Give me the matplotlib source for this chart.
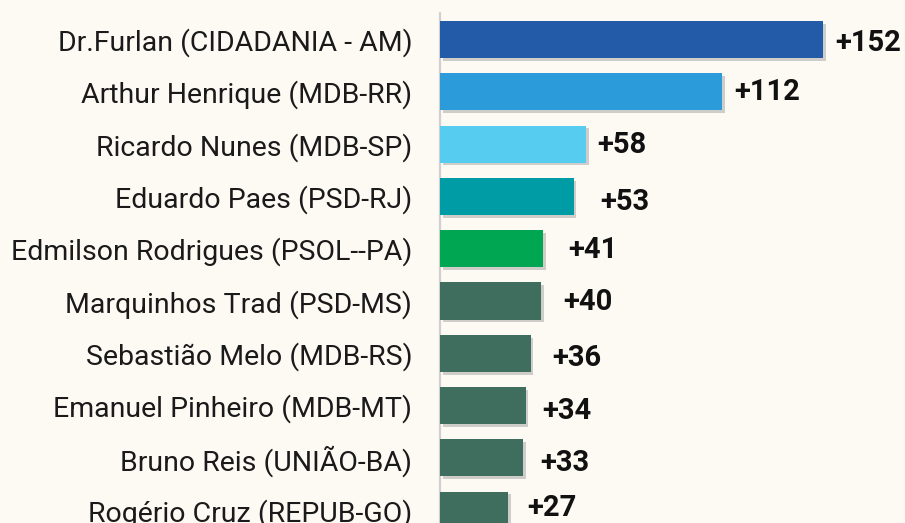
import matplotlib.pyplot as plt
import matplotlib.patheffects as pe

plt.rcParams['font.family'] = ['Roboto', 'DejaVu Sans']

# data
names = [
    'Dr.Furlan (CIDADANIA - AM)',
    'Arthur Henrique (MDB-RR)',
    'Ricardo Nunes (MDB-SP)',
    'Eduardo Paes (PSD-RJ)',
    'Edmilson Rodrigues (PSOL--PA)',
    'Marquinhos Trad (PSD-MS)',
    'Sebastião Melo (MDB-RS)',
    'Emanuel Pinheiro (MDB-MT)',
    'Bruno Reis (UNIÃO-BA)',
    'Rogério Cruz (REPUB-GO)',
]
growth = [152, 112, 58, 53, 41, 40, 36, 34, 33, 27]

# styling
bar_colors = ['#235BA8', '#2C9BD9', '#55CCF0', '#009CA6', '#00A651',
              '#3F6E5F', '#3F6E5F', '#3F6E5F', '#3F6E5F', '#3F6E5F']
# label nudges in pixels (right, down) -- the original places them by hand
label_dx = [12.5, 12, 11, 27, 25, 22, 22, 17, 17, 19.5]
label_dy = [0.5, -2.5, -2, 2.5, -2, -1.5, 1.5, 2.5, 1.7, -5]

bg = '#FDFAF4'
W, H = 905, 523
dpi = 100

fig = plt.figure(figsize=(W / dpi, H / dpi), dpi=dpi, facecolor=bg)
ax = fig.add_axes([440 / W, 0, 1 - 440 / W, (523 - 13) / H])
ax.set_facecolor(bg)

ypos = list(range(len(names)))
bars = ax.barh(ypos, growth, height=0.71, color=bar_colors, zorder=3)
for b in bars:
    b.set_path_effects([pe.SimplePatchShadow(offset=(2, -2), shadow_rgbFace='#666666', alpha=0.3),
                        pe.Normal()])

px2pt = 72 / dpi
for i, v in enumerate(growth):
    # +3 px: va='center' counts the descent, so digits ride a bit high otherwise
    ax.annotate('+' + str(v), xy=(v, i),
                xytext=(label_dx[i] * px2pt, -(label_dy[i] + 3) * px2pt),
                textcoords='offset points', ha='left', va='center',
                fontsize=21, fontweight='bold', color='#111111')

ax.set_xlim(0, (W - 440) / 2.52)
ax.set_ylim(9.245, -0.507)
ax.set_yticks(ypos)
ax.set_yticklabels(names, fontsize=20.5, color='#1a1a1a')
ax.tick_params(axis='y', length=0, pad=20)
ax.set_xticks([])

for s in ['top', 'right', 'bottom']:
    ax.spines[s].set_visible(False)
ax.spines['left'].set_color('#d0d0d0')
ax.spines['left'].set_linewidth(1.6)

fig.savefig('out.png', dpi=dpi, facecolor=bg)
